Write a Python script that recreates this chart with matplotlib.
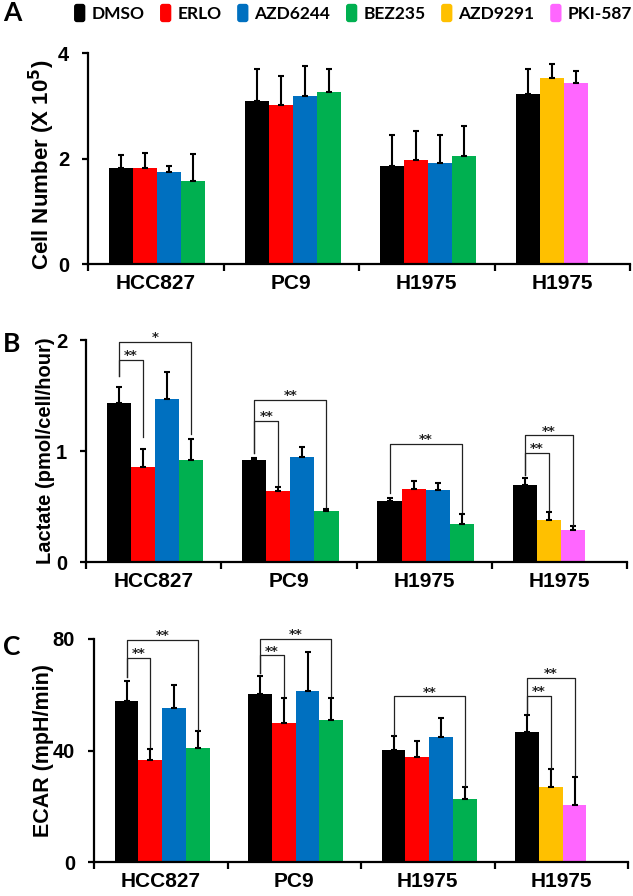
import matplotlib
matplotlib.use("Agg")
import matplotlib.pyplot as plt
import numpy as np
from matplotlib.patches import Patch, FancyBboxPatch
from matplotlib.legend_handler import HandlerPatch

nan = np.nan

# ---------------- data ----------------
categories = ["HCC827", "PC9", "H1975", "H1975"]
treatments = ["DMSO", "ERLO", "AZD6244", "BEZ235", "AZD9291", "PKI-587"]
treat_colors = ["#000000", "#FF0000", "#0070C0", "#00B050", "#FFC000", "#FF66FF"]
treat_slot = [0, 1, 2, 3, 1, 2]

# Panel A: cell number (x 10^5)
cell_dmso = [1.82, 3.09, 1.86, 3.23]
cell_erlo = [1.82, 3.01, 1.97, nan]
cell_azd6244 = [1.74, 3.18, 1.91, nan]
cell_bez235 = [1.58, 3.26, 2.04, nan]
cell_azd9291 = [nan, nan, nan, 3.53]
cell_pki587 = [nan, nan, nan, 3.43]
cell_err_dmso = [0.25, 0.61, 0.59, 0.47]
cell_err_erlo = [0.28, 0.55, 0.56, nan]
cell_err_azd6244 = [0.12, 0.58, 0.54, nan]
cell_err_bez235 = [0.50, 0.44, 0.58, nan]
cell_err_azd9291 = [nan, nan, nan, 0.26]
cell_err_pki587 = [nan, nan, nan, 0.23]

# Panel B: lactate (pmol/cell/hour)
lac_dmso = [1.43, 0.92, 0.55, 0.69]
lac_erlo = [0.86, 0.64, 0.66, nan]
lac_azd6244 = [1.47, 0.95, 0.65, nan]
lac_bez235 = [0.92, 0.46, 0.34, nan]
lac_azd9291 = [nan, nan, nan, 0.38]
lac_pki587 = [nan, nan, nan, 0.29]
lac_err_dmso = [0.15, 0.02, 0.03, 0.07]
lac_err_erlo = [0.16, 0.04, 0.07, nan]
lac_err_azd6244 = [0.24, 0.09, 0.06, nan]
lac_err_bez235 = [0.19, 0.02, 0.09, nan]
lac_err_azd9291 = [nan, nan, nan, 0.07]
lac_err_pki587 = [nan, nan, nan, 0.03]

# Panel C: ECAR (mpH/min)
ecar_dmso = [57.9, 60.4, 40.1, 46.5]
ecar_erlo = [36.5, 50.0, 37.5, nan]
ecar_azd6244 = [55.1, 61.5, 44.9, nan]
ecar_bez235 = [40.8, 50.9, 22.5, nan]
ecar_azd9291 = [nan, nan, nan, 27.0]
ecar_pki587 = [nan, nan, nan, 20.6]
ecar_err_dmso = [7.2, 6.2, 5.1, 6.3]
ecar_err_erlo = [4.2, 8.8, 5.9, nan]
ecar_err_azd6244 = [8.3, 13.7, 6.8, nan]
ecar_err_bez235 = [6.2, 7.8, 4.4, nan]
ecar_err_azd9291 = [nan, nan, nan, 6.2]
ecar_err_pki587 = [nan, nan, nan, 9.9]

# significance brackets: (group, slot_a, slot_b, level, leg_a_bottom, leg_b_bottom, text)
lac_sig = [
    (0, 0, 1, 1.82, 1.68, 1.13, "**"),
    (0, 0, 3, 1.98, 1.68, 1.15, "*"),
    (1, 0, 1, 1.27, 0.98, 0.69, "**"),
    (1, 0, 3, 1.46, 0.98, 0.50, "**"),
    (2, 0, 3, 1.06, 0.62, 0.45, "**"),
    (3, 0, 1, 0.98, 0.78, 0.47, "**"),
    (3, 0, 2, 1.14, 0.78, 0.33, "**"),
]
ecar_sig = [
    (0, 0, 1, 73.2, 66.3, 41.4, "**"),
    (0, 0, 3, 79.8, 66.3, 47.4, "**"),
    (1, 0, 1, 74.1, 67.8, 59.4, "**"),
    (1, 0, 3, 80.0, 67.8, 59.4, "**"),
    (2, 0, 3, 59.4, 45.6, 27.2, "**"),
    (3, 0, 1, 59.7, 53.4, 33.6, "**"),
    (3, 0, 2, 66.0, 53.4, 31.2, "**"),
]

panels = [
    dict(means=[cell_dmso, cell_erlo, cell_azd6244, cell_bez235, cell_azd9291, cell_pki587],
         errs=[cell_err_dmso, cell_err_erlo, cell_err_azd6244, cell_err_bez235, cell_err_azd9291, cell_err_pki587],
         ylabel="Cell Number (X 10$^{\\mathbf{5}}$)", ylabsize=16, ylim=4, yticks=[0, 2, 4], sig=[],
         rect=[88/633, 1-264/896, 542/633, 211/896], letter="A", letter_y=1-13/896,
         ylab_x=-0.085, ylab_y=0.47),
    dict(means=[lac_dmso, lac_erlo, lac_azd6244, lac_bez235, lac_azd9291, lac_pki587],
         errs=[lac_err_dmso, lac_err_erlo, lac_err_azd6244, lac_err_bez235, lac_err_azd9291, lac_err_pki587],
         ylabel="Lactate (pmol/cell/hour)", ylabsize=14.5, ylim=2, yticks=[0, 1, 2], sig=lac_sig,
         rect=[86/633, 1-562/896, 541/633, 222/896], letter="B", letter_y=1-344/896,
         ylab_x=-0.074, ylab_y=0.5),
    dict(means=[ecar_dmso, ecar_erlo, ecar_azd6244, ecar_bez235, ecar_azd9291, ecar_pki587],
         errs=[ecar_err_dmso, ecar_err_erlo, ecar_err_azd6244, ecar_err_bez235, ecar_err_azd9291, ecar_err_pki587],
         ylabel="ECAR (mpH/min)", ylabsize=15.5, ylim=80, yticks=[0, 40, 80], sig=ecar_sig,
         rect=[94/633, 1-862/896, 534/633, 223/896], letter="C", letter_y=1-647/896,
         ylab_x=-0.095, ylab_y=0.5),
]

BAR_W = 0.178
START = 0.155

fig = plt.figure(figsize=(6.33, 8.96), dpi=100)

for p in panels:
    ax = fig.add_axes(p["rect"])
    for ti, (m, e) in enumerate(zip(p["means"], p["errs"])):
        m = np.asarray(m, float)
        e = np.asarray(e, float)
        ok = ~np.isnan(m)
        xs = np.arange(len(categories))[ok] + START + (treat_slot[ti] + 0.5) * BAR_W
        ax.bar(xs, m[ok], width=BAR_W, color=treat_colors[ti], edgecolor="none", zorder=2)
        ax.errorbar(xs, m[ok], yerr=[np.zeros(ok.sum()), e[ok]], fmt="none", ecolor="black",
                    elinewidth=1.5, capsize=2.2, capthick=1.5, zorder=3)
    for (g, sa, sb, lvl, ba, bb, txt) in p["sig"]:
        xa = g + START + (sa + 0.5) * BAR_W
        xb = g + START + (sb + 0.5) * BAR_W
        ax.plot([xa, xa, xb, xb], [ba, lvl, lvl, bb], color="#222222", lw=0.9,
                clip_on=False, zorder=4)
        ax.annotate(txt, xy=((xa + xb) / 2, lvl), xytext=(0, -1.5), textcoords="offset points",
                    ha="center", va="bottom", fontsize=9.5, fontweight="bold",
                    family="DejaVu Sans", color="#222222", annotation_clip=False)
    ax.set_xlim(0, len(categories))
    ax.set_ylim(0, p["ylim"])
    ax.set_yticks(p["yticks"])
    ax.set_yticklabels([str(v) for v in p["yticks"]], fontsize=14.5, fontweight="bold",
                       family="Liberation Sans")
    ax.set_xticks(np.arange(len(categories) + 1))
    ax.set_xticklabels([])
    ax.set_xticks(np.arange(len(categories)) + 0.5, minor=True)
    ax.set_xticklabels(categories, minor=True, fontsize=15, fontweight="bold",
                       family="Liberation Sans")
    ax.tick_params(axis="x", which="major", direction="out", length=5, width=1.6)
    ax.tick_params(axis="x", which="minor", length=0, pad=7)
    ax.tick_params(axis="y", direction="out", length=4, width=1.6, pad=9.5)
    for s in ["top", "right"]:
        ax.spines[s].set_visible(False)
    for s in ["left", "bottom"]:
        ax.spines[s].set_linewidth(1.6)
    ax.set_ylabel(p["ylabel"], fontsize=p["ylabsize"], fontweight="bold", family="Liberation Sans")
    ax.yaxis.label.set_va("center")
    ax.yaxis.set_label_coords(p["ylab_x"], p["ylab_y"])
    fig.text(12/633, p["letter_y"], p["letter"], ha="center", va="center",
             fontsize=19, fontweight="bold", family="Lato")


class RoundHandler(HandlerPatch):
    def create_artists(self, legend, orig_handle, xdescent, ydescent, width, height,
                       fontsize, trans):
        r = min(width, height) * 0.25
        patch = FancyBboxPatch((-xdescent + r, -ydescent + r), width - 2 * r, height - 2 * r,
                               boxstyle=f"round,pad={r}", facecolor=orig_handle.get_facecolor(),
                               edgecolor="none", transform=trans)
        return [patch]


handles = [Patch(facecolor=c, label=t) for t, c in zip(treatments, treat_colors)]
fig.legend(handles=handles, loc="center", bbox_to_anchor=(353/633, 1-13/896), ncol=6,
           frameon=False, prop=dict(family="Lato", weight="bold", size=12.5),
           handlelength=0.65, handleheight=1.25, handletextpad=0.35, columnspacing=0.9,
           borderpad=0, borderaxespad=0,
           handler_map={Patch: RoundHandler()})

fig.savefig("out.png", dpi=100)
